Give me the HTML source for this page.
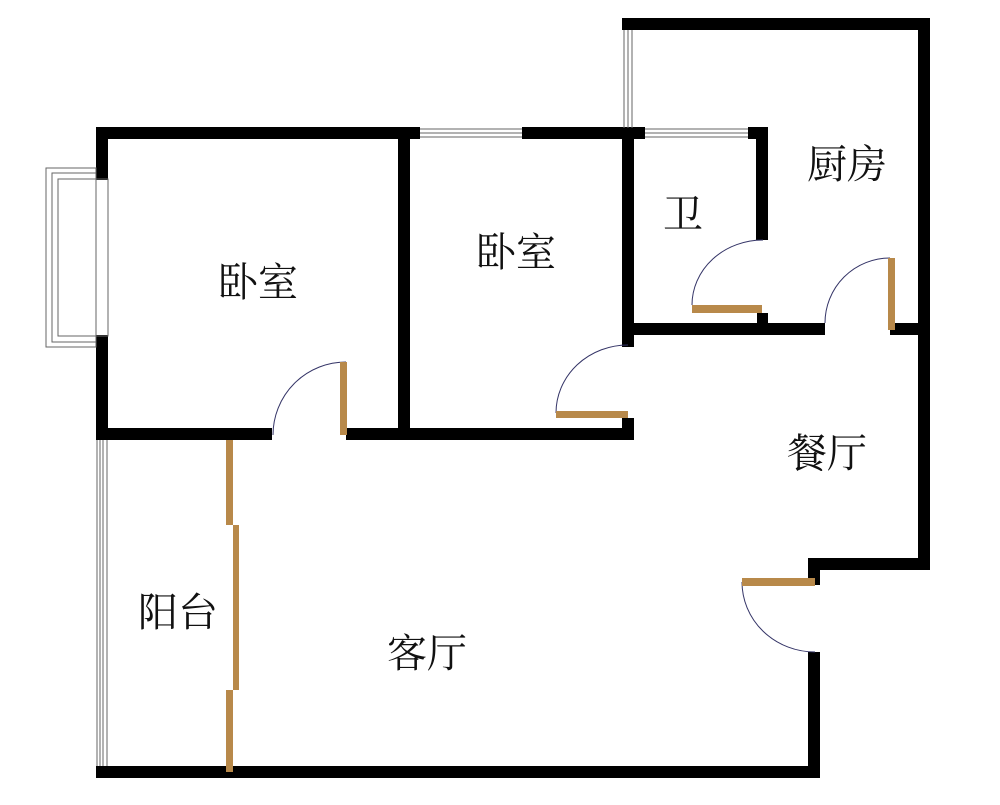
<!DOCTYPE html>
<html><head><meta charset="utf-8"><style>
html,body{margin:0;padding:0;background:#fff;}
svg{display:block;}
text{font-family:"Liberation Serif","Noto Serif CJK SC",serif;font-size:40px;fill:#111;}
</style></head><body>
<svg width="1000" height="805" viewBox="0 0 1000 805" xmlns="http://www.w3.org/2000/svg">
<g fill="#000">
<!-- kitchen top & right -->
<rect x="622" y="18" width="308" height="12"/>
<rect x="918" y="18" width="12" height="552"/>
<!-- bedrooms top -->
<rect x="96" y="127" width="324" height="12"/>
<rect x="522" y="127" width="112" height="12"/>
<rect x="622" y="127" width="23" height="12"/>
<rect x="748" y="127" width="20" height="12"/>
<rect x="756" y="127" width="12" height="113"/>
<!-- left bedroom left wall -->
<rect x="96" y="127" width="12" height="53"/>
<rect x="96" y="335" width="12" height="105"/>
<rect x="398" y="127" width="12" height="313"/>
<rect x="96" y="428" width="176" height="12"/>
<rect x="346" y="428" width="288" height="12"/>
<rect x="622" y="127" width="12" height="220"/>
<rect x="622" y="418" width="12" height="22"/>
<!-- bath bottom -->
<rect x="622" y="323" width="203" height="12"/>
<rect x="757" y="313" width="11" height="22"/>
<rect x="890" y="323" width="40" height="12"/>
<!-- dining right -->
<rect x="808" y="558" width="122" height="12"/>
<rect x="808" y="558" width="12" height="27"/>
<rect x="808" y="652" width="12" height="126"/>
<rect x="96" y="766" width="724" height="12"/>
</g>
<!-- windows -->
<g fill="none" stroke="#666" stroke-width="1">
<rect x="46" y="168" width="50" height="179"/>
<rect x="52" y="173" width="44" height="169"/>
<rect x="58" y="179" width="50" height="157"/>
<line x1="420" y1="129" x2="522" y2="129"/><line x1="420" y1="133" x2="522" y2="133"/><line x1="420" y1="137" x2="522" y2="137"/>
<line x1="645" y1="129" x2="748" y2="129"/><line x1="645" y1="133" x2="748" y2="133"/><line x1="645" y1="137" x2="748" y2="137"/>
<line x1="624" y1="30" x2="624" y2="128"/><line x1="628" y1="30" x2="628" y2="128"/><line x1="632" y1="30" x2="632" y2="128"/>
<line x1="97" y1="440" x2="97" y2="766"/><line x1="100" y1="440" x2="100" y2="766"/><line x1="103" y1="440" x2="103" y2="766"/><line x1="107" y1="440" x2="107" y2="766"/>
</g>
<!-- door arcs -->
<g fill="none" stroke="#336" stroke-width="1">
<path d="M346 362 A73 73 0 0 0 273 435"/>
<path d="M628 345 A72 68 0 0 0 556 413"/>
<path d="M763 240 A71 65 0 0 0 692 305"/>
<path d="M890 258 A65 65 0 0 0 825 323"/>
<path d="M742 582 A73 70 0 0 0 815 652"/>
</g>
<g fill="#b8894a">
<rect x="340" y="362" width="7" height="73"/>
<rect x="556" y="411" width="72" height="7"/>
<rect x="692" y="305" width="70" height="8"/>
<rect x="888" y="258" width="7" height="72"/>
<rect x="742" y="578" width="73" height="8"/>
<rect x="226" y="440" width="7" height="85"/>
<rect x="233" y="525" width="6" height="165"/>
<rect x="226" y="690" width="7" height="82"/>
</g>
<text x="218" y="296">卧室</text>
<text x="476" y="266">卧室</text>
<text x="663" y="228">卫</text>
<text x="807" y="178">厨房</text>
<text x="787" y="467">餐厅</text>
<text x="138" y="626">阳台</text>
<text x="387" y="667">客厅</text>
</svg>
</body></html>
